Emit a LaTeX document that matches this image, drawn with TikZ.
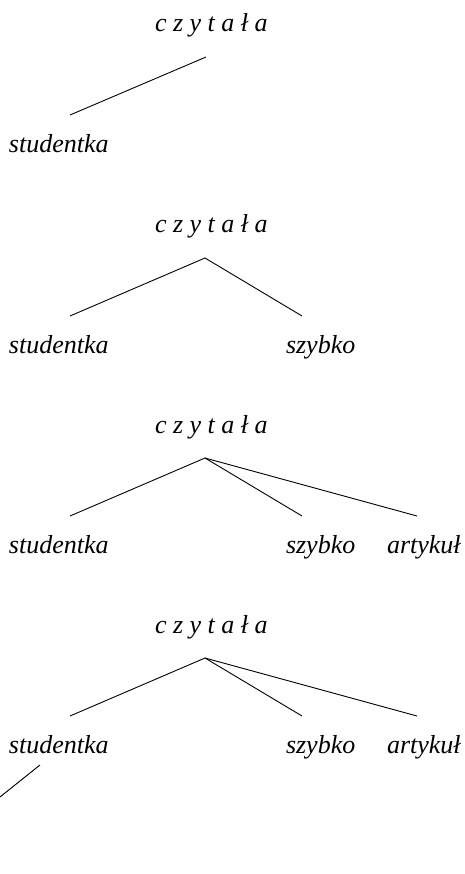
\documentclass[tikz,border=0pt]{standalone}
\usepackage{fontspec}
\setmainfont{Liberation Serif}
\begin{document}
\begin{tikzpicture}[x=1pt,y=-1pt,
  word/.style={anchor=base west,inner sep=0pt,outer sep=0pt,font=\fontsize{26}{30}\selectfont\itshape},
  edge/.style={line width=0.9pt,black}]
\useasboundingbox (0,0) rectangle (464,874);
% panel 1
\node[word] (v1) at (155,32) {c z y t a ł a};
\node[word] (s1) at (9,153) {studentka};
\coordinate (a1) at (206,57);
\coordinate (e1s) at (70,115);
\draw[edge] (a1) -- (e1s);
% panel 2
\node[word] (v2) at (155,233) {c z y t a ł a};
\node[word] (s2) at (9,353) {studentka};
\node[word] (b2) at (286,353) {szybko};
\coordinate (a2) at (205,258);
\coordinate (e2s) at (70,316);
\coordinate (e2b) at (302,316);
\draw[edge] (e2s) -- (a2) -- (e2b);
% panel 3
\node[word] (v3) at (155,433) {c z y t a ł a};
\node[word] (s3) at (9,553) {studentka};
\node[word] (b3) at (286,553) {szybko};
\node[word] (r3) at (387,553) {artykuł};
\coordinate (a3) at (205,458);
\coordinate (e3s) at (70,516);
\coordinate (e3b) at (302,516);
\coordinate (e3r) at (417,516);
\draw[edge] (e3s) -- (a3) -- (e3b);
\draw[edge] (a3) -- (e3r);
% panel 4
\node[word] (v4) at (155,633) {c z y t a ł a};
\node[word] (s4) at (9,753) {studentka};
\node[word] (b4) at (286,753) {szybko};
\node[word] (r4) at (387,753) {artykuł};
\coordinate (a4) at (205,658);
\coordinate (e4s) at (70,716);
\coordinate (e4b) at (302,716);
\coordinate (e4r) at (417,716);
\coordinate (d4a) at (40,765);
\coordinate (d4b) at (0,797);
\draw[edge] (e4s) -- (a4) -- (e4b);
\draw[edge] (a4) -- (e4r);
\draw[edge] (d4a) -- (d4b);
\end{tikzpicture}
\end{document}
